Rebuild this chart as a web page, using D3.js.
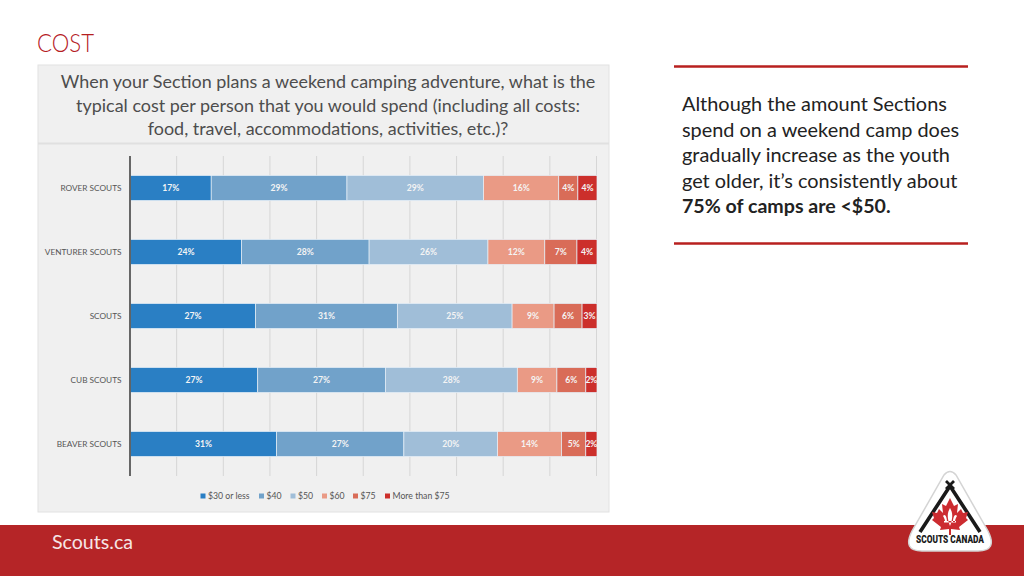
<!DOCTYPE html>
<html><head><meta charset="utf-8">
<script src="https://cdn.jsdelivr.net/npm/d3@7"></script>
<style>
html,body{margin:0;padding:0;background:#fff;overflow:hidden}
svg{display:block;font-family:Lato,"Open Sans",sans-serif}
</style></head><body><div id="c"></div>
<script>
const categories=["ROVER SCOUTS","VENTURER SCOUTS","SCOUTS","CUB SCOUTS","BEAVER SCOUTS"];
const seriesNames=["$30 or less","$40","$50","$60","$75","More than $75"];
const s30=[17.3,23.8,26.8,27.3,31.3];
const s40=[29.1,27.4,30.4,27.4,27.3];
const s50=[29.3,25.5,24.6,28.3,20.1];
const s60=[16.1,12.2,9.0,8.5,13.7];
const s75=[4.1,6.9,6.0,6.2,5.2];
const s99=[4.1,4.3,3.2,2.4,2.4];
const labels30=["17%","24%","27%","27%","31%"];
const labels40=["29%","28%","31%","27%","27%"];
const labels50=["29%","26%","25%","28%","20%"];
const labels60=["16%","12%","9%","9%","14%"];
const labels75=["4%","7%","6%","6%","5%"];
const labels99=["4%","4%","3%","2%","2%"];
const colors=["#2a7fc4","#71a2ca","#a0bed8","#ea9a85","#d96c58","#cc2f2b"];
const gridTicks=[0,10,20,30,40,50,60,70,80,90,100];
const titleLines=["When your Section plans a weekend camping adventure, what is the","typical cost per person that you would spend (including all costs:","food, travel, accommodations, activities, etc.)?"];
const bodyLines=["Although the amount Sections","spend on a weekend camp does","gradually increase as the youth","get older, it’s consistently about"];
const bodyBold="75% of camps are <$50.";

const svg=d3.select("#c").append("svg").attr("width",1024).attr("height",576);
const seriesValues=[s30,s40,s50,s60,s75,s99];
const seriesLabels=[labels30,labels40,labels50,labels60,labels75,labels99];

svg.append("text").attr("x",37).attr("y",52).attr("font-size",24.5).attr("font-weight",300).attr("textLength",57).attr("lengthAdjust","spacingAndGlyphs").attr("fill","#b5201f").text("COST");

// panels
svg.append("rect").attr("x",38).attr("y",65).attr("width",571).attr("height",447).attr("fill","#f0f0f0").attr("stroke","#e2e2e2");
svg.append("line").attr("x1",38).attr("x2",609).attr("y1",143.5).attr("y2",143.5).attr("stroke","#e0e0e0").attr("stroke-width",2);
svg.append("g").selectAll("text").data(titleLines).join("text")
 .attr("x",328).attr("y",(d,i)=>88+i*23.5).attr("text-anchor","middle").attr("font-size",17.95).attr("fill","#4d4d4d").text(d=>d);

// chart
const x=d3.scaleLinear().domain([0,100]).range([130.5,597]);
const y=d3.scaleBand().domain(categories).range([156,476]).paddingInner(0.61).paddingOuter(0.305);
svg.append("g").selectAll("line").data(gridTicks.slice(1)).join("line")
 .attr("x1",d=>x(d)-0.5).attr("x2",d=>x(d)-0.5).attr("y1",156).attr("y2",476)
 .attr("stroke","#d6d6d6").attr("stroke-width",1);

const rows=categories.map((c,i)=>{const o={cat:c};seriesNames.forEach((n,j)=>o[n]=seriesValues[j][i]);return o;});
const stack=d3.stack().keys(seriesNames).offset(d3.stackOffsetExpand)(rows);
stack.forEach((layer,j)=>{
  const g=svg.append("g");
  g.selectAll("rect").data(layer).join("rect")
   .attr("x",d=>x(d[0]*100)).attr("width",d=>x(d[1]*100)-x(d[0]*100))
   .attr("y",d=>y(d.data.cat)).attr("height",y.bandwidth())
   .attr("fill",colors[j]).attr("stroke","#e6f0f8").attr("stroke-width",0.7);
  g.selectAll("text").data(layer).join("text")
   .attr("x",d=>(x(d[0]*100)+x(d[1]*100))/2).attr("y",d=>y(d.data.cat)+y.bandwidth()/2+3)
   .attr("text-anchor","middle").attr("font-size",8.6).attr("font-weight",700).attr("fill","#f4f4f4")
   .text((d,i)=>seriesLabels[j][i]);
});
svg.append("line").attr("x1",130).attr("x2",130).attr("y1",156).attr("y2",476).attr("stroke","#444").attr("stroke-width",1.6);
svg.append("g").selectAll("text").data(categories).join("text")
 .attr("x",121.5).attr("y",d=>y(d)+y.bandwidth()/2+2.5).attr("text-anchor","end").attr("font-size",8.25).attr("fill","#555").text(d=>d);

// legend
const legX=[200.5,259,290.5,322,353,385];
const lg=svg.append("g").selectAll("g").data(seriesNames).join("g").attr("transform",(d,i)=>`translate(${legX[i]},496)`);
lg.append("rect").attr("x",0).attr("y",-2.5).attr("width",5).attr("height",5).attr("fill",(d,i)=>colors[i]);
lg.append("text").attr("x",7.5).attr("y",3).attr("font-size",8.7).attr("fill","#555").text(d=>d);

// side text
[66.5,243.5].forEach(v=>svg.append("line").attr("x1",674).attr("x2",968).attr("y1",v).attr("y2",v).attr("stroke","#b8201f").attr("stroke-width",2.5));
svg.append("g").selectAll("text").data(bodyLines).join("text")
 .attr("x",682).attr("y",(d,i)=>111+i*25.5).attr("font-size",19.9).attr("fill","#222").text(d=>d);
svg.append("text").attr("x",682).attr("y",213).attr("font-size",19.6).attr("font-weight",700).attr("fill","#222").text(bodyBold);

// footer
svg.append("rect").attr("x",0).attr("y",525).attr("width",1024).attr("height",51).attr("fill","#b52527");
svg.append("text").attr("x",52).attr("y",549).attr("font-size",19.6).attr("fill","#f6e6e6").text("Scouts.ca");

// logo
const logo=svg.append("g");
logo.append("path").attr("d","M944 475 Q950 468 956 475 L988 531 Q998 551 978 551 L922 551 Q902 551 912 531 Z")
 .attr("fill","#fff").attr("stroke","#d4d4d4").attr("stroke-width",1.5);
logo.append("path").attr("d","M920 532 L950 486 L980 532").attr("fill","none").attr("stroke","#1a1a1a").attr("stroke-width",3.6);
logo.append("path").attr("d","M946 481 L954 489 M954 481 L946 489").attr("stroke","#1a1a1a").attr("stroke-width",2.8);
logo.append("path").attr("d","M950 498 L954 506 L958 504 L957 513 L961 509 L963 513 L968 512 L966 518 L968 520 L959 527 L960 530 L951 529 L951 535 L949 535 L949 529 L940 530 L941 527 L932 520 L934 518 L932 512 L937 513 L939 509 L943 513 L942 504 L946 506Z").attr("fill","#cc2b30");
logo.append("path").attr("d","M950 508 C947 513 947 518 950 526 C953 518 953 513 950 508Z M943 516 C945 513 947 517 947 522 L945 522 C945 519 944 518 943 516Z M957 516 C955 513 953 517 953 522 L955 522 C955 519 956 518 957 516Z M944 521 H956 V522.5 H944Z").attr("fill","#fff");
logo.append("text").attr("x",950).attr("y",543).attr("text-anchor","middle").attr("font-size",10.5).attr("font-weight",900).attr("font-family","Roboto,sans-serif").attr("textLength",68).attr("lengthAdjust","spacingAndGlyphs").attr("fill","#1a1a1a").text("SCOUTS CANADA");
</script></body></html>
